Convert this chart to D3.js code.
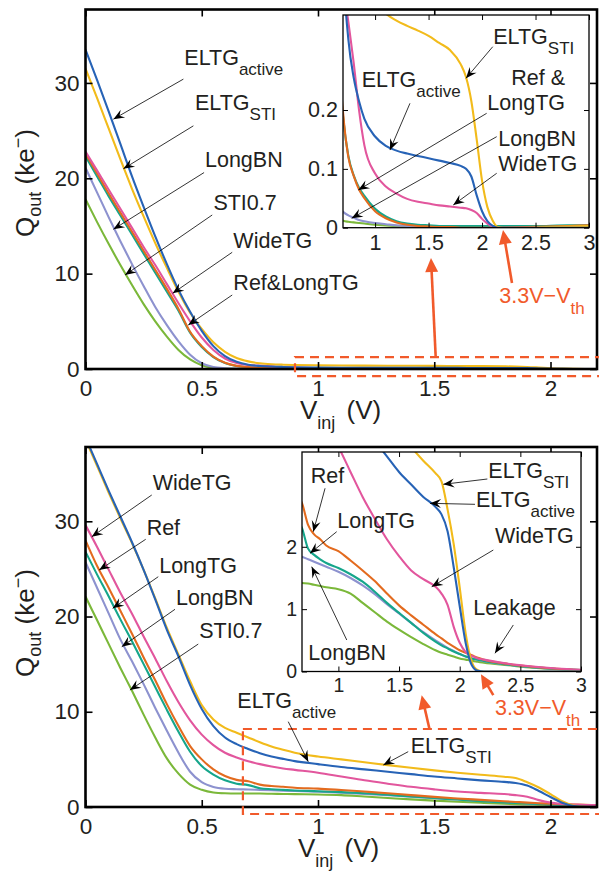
<!DOCTYPE html>
<html><head><meta charset="utf-8">
<script src="https://cdn.jsdelivr.net/npm/d3@7"></script>
<style>
body{margin:0;background:#fff}
svg text{font-family:"Liberation Sans",Arial,Helvetica,sans-serif;fill:#231f20}
</style></head>
<body><svg id="c" width="599" height="874"></svg>
<script>
// ---------------- DATA ----------------
const Vinj = [0,0.05,0.1,0.15,0.2,0.25,0.3,0.35,0.4,0.45,0.5,0.55,0.6,0.65,0.7,
  0.75,0.8,0.85,0.9, 1.0,1.1,1.2,1.3,1.4,1.5,1.6,1.7,1.8,
  1.85,1.9,1.95,2.0,2.05,2.1,2.15,2.2, 2.4,2.6,2.8,3.0];

// Top panel (ke-)
const topELTGactive = [33.5,30.3,27.0,23.6,20.2,17.0,13.9,11.0,8.3,6.0,4.0,2.4,1.35,0.75,0.45,
  0.32,0.255,0.215,0.185, 0.155,0.139,0.131,0.126,0.122,0.118,0.114,0.110,0.105,
  0.100,0.087,0.055,0.028,0.011,0.003,0.0,0.0, 0.0,0.0,0.0,0.0];
const topELTGSTI = [31.5,28.4,25.2,22.0,18.9,16.0,13.2,10.6,8.1,5.9,4.2,2.8,1.8,1.15,0.8,
  0.6,0.5,0.45,0.42, 0.385,0.364,0.352,0.343,0.335,0.326,0.314,0.302,0.278,
  0.256,0.215,0.150,0.080,0.035,0.012,0.001,0.0, 0.0,0.001,0.002,0.003];
const topWideTG = [22.8,20.8,18.8,16.8,14.8,12.8,10.9,8.9,6.9,5.0,3.3,2.0,1.1,0.62,0.42,
  0.35,0.28,0.2,0.14, 0.092,0.07,0.058,0.049,0.044,0.041,0.038,0.036,0.034,
  0.033,0.030,0.025,0.015,0.007,0.002,0.0,0.0, 0.0,0.0,0.001,0.001];
const topRefLongTG = [22.6,20.5,18.4,16.4,14.4,12.4,10.4,8.4,6.3,3.9,2.4,1.3,0.65,0.33,0.197,
  0.12,0.088,0.065,0.05, 0.028,0.016,0.009,0.005,0.003,0.002,0.001,0.001,0.0,
  0.0,0.0,0.0,0.0,0.0,0.0,0.0,0.0, 0.001,0.002,0.003,0.004];
const topLongTG = [22.3,20.2,18.1,16.1,14.1,12.1,10.1,8.1,6.1,3.8,2.3,1.25,0.62,0.32,0.19,
  0.122,0.089,0.068,0.054, 0.032,0.019,0.011,0.007,0.005,0.004,0.003,0.003,0.003,
  0.003,0.003,0.003,0.003,0.003,0.003,0.003,0.003, 0.003,0.003,0.004,0.004];
const topLongBN = [21.1,18.5,15.9,13.4,11.0,8.7,6.5,4.6,2.9,1.5,0.6,0.2,0.08,0.04,0.027,
  0.021,0.017,0.013,0.011, 0.008,0.006,0.004,0.003,0.002,0.002,0.001,0.001,0.001,
  0.001,0.001,0.001,0.001,0.001,0.001,0.001,0.001, 0.001,0.001,0.001,0.001];
const topSTI07 = [17.8,15.4,13.1,10.9,8.8,6.8,5.0,3.4,2.0,1.0,0.4,0.12,0.04,0.018,0.012,
  0.010,0.009,0.008,0.007, 0.005,0.004,0.003,0.003,0.002,0.002,0.002,0.002,0.002,
  0.002,0.002,0.002,0.002,0.002,0.002,0.002,0.002, 0.002,0.003,0.003,0.003];

// Bottom panel (ke-)
const botELTGactive = [38.8,36.0,33.2,30.5,27.8,24.9,21.8,18.6,15.8,12.8,10.3,8.5,7.3,6.6,6.1,
  5.65,5.3,5.05,4.82, 4.5,4.2,3.95,3.7,3.45,3.2,3.0,2.8,2.64,
  2.52,2.25,1.68,1.05,0.45,0.1,0.01,0.0, 0.0,0.0,0.0,0.0];
const botELTGSTI = [38.6,35.8,33.0,30.3,27.7,24.9,21.9,18.8,16.0,13.2,10.7,9.2,8.3,7.8,7.3,
  6.8,6.35,6.0,5.7, 5.3,5.0,4.7,4.4,4.12,3.85,3.6,3.38,3.18,
  3.05,2.6,2.05,1.35,0.6,0.15,0.02,0.0, 0.0,0.0,0.0,0.0];
const botWideTG = [29.6,27.3,24.9,22.5,20.3,17.9,15.6,13.2,11.0,9.1,7.6,6.5,5.7,5.2,4.8,
  4.5,4.25,4.05,3.9, 3.6,3.2,2.8,2.45,2.12,1.85,1.62,1.48,1.36,
  1.25,1.07,0.72,0.46,0.31,0.25,0.21,0.19, 0.125,0.08,0.048,0.028];
const botRef = [28.0,25.3,23.0,20.6,18.2,15.7,13.3,10.8,8.5,6.4,5.0,3.95,3.25,2.85,2.7,
  2.35,2.2,2.12,2.02, 1.93,1.78,1.62,1.45,1.25,1.06,0.9,0.75,0.6,
  0.53,0.46,0.4,0.34,0.3,0.26,0.22,0.19, 0.12,0.075,0.045,0.025];
const botLongTG = [26.8,24.4,22.1,19.7,17.4,15.0,12.6,10.2,7.9,5.8,4.3,3.4,2.8,2.45,2.3,
  1.97,1.87,1.8,1.74, 1.66,1.56,1.44,1.28,1.1,0.94,0.78,0.62,0.48,
  0.42,0.37,0.32,0.28,0.24,0.21,0.19,0.17, 0.11,0.07,0.04,0.022];
const botLongBN = [25.7,23.0,20.3,17.6,15.3,12.9,10.4,8.0,5.7,3.7,2.6,2.1,1.92,1.87,1.84,
  1.8,1.76,1.72,1.68, 1.6,1.5,1.38,1.24,1.08,0.93,0.78,0.63,0.5,
  0.44,0.38,0.33,0.28,0.24,0.21,0.185,0.165, 0.11,0.068,0.04,0.022];
const botSTI07 = [22.1,19.6,17.1,14.6,12.2,9.7,7.3,5.1,3.5,2.35,1.8,1.52,1.44,1.42,1.42,
  1.41,1.39,1.37,1.35, 1.32,1.25,1.1,0.95,0.8,0.67,0.55,0.44,0.34,
  0.3,0.27,0.24,0.21,0.19,0.17,0.155,0.14, 0.1,0.06,0.035,0.022];

// tick labels
const mainXTicks = [0,0.5,1,1.5,2];
const mainYTicks = [0,10,20,30];
const insetXTicks = [1,1.5,2,2.5,3];
const topInsetYTicks = [0,0.1,0.2];
const botInsetYTicks = [0,1,2];

// ---------------- STYLE ----------------
const COL = {blue:"#2763b6", yellow:"#f2bb1b", pink:"#e2569d", orange:"#e36b1f",
  teal:"#16a68b", lav:"#8d92cf", green:"#7bb83a"};
const RED = "#f15a2b", INK = "#231f20";

const topSeries = [
  {v:topSTI07,c:COL.green},{v:topLongBN,c:COL.lav},{v:topLongTG,c:COL.teal},
  {v:topRefLongTG,c:COL.orange},{v:topWideTG,c:COL.pink},{v:topELTGSTI,c:COL.yellow},
  {v:topELTGactive,c:COL.blue}];
const botSeries = [
  {v:botSTI07,c:COL.green},{v:botLongBN,c:COL.lav},{v:botLongTG,c:COL.teal},
  {v:botRef,c:COL.orange},{v:botWideTG,c:COL.pink},{v:botELTGSTI,c:COL.yellow},
  {v:botELTGactive,c:COL.blue}];

const svg = d3.select("#c");

const P = {
  topMain: {x:d3.scaleLinear([0,2.2],[85.5,597]), y:d3.scaleLinear([0,37.7],[369,9.5])},
  topInset:{x:d3.scaleLinear([0.7,3],[343,589]), y:d3.scaleLinear([0,0.3615],[227.7,15])},
  botMain: {x:d3.scaleLinear([0,2.2],[85.5,597]), y:d3.scaleLinear([0,37.8],[807,447])},
  botInset:{x:d3.scaleLinear([0.7,3],[302,581]), y:d3.scaleLinear([0,3.52],[671.5,452])}
};

let clipN = 0;
function curves(p, series, lw){
  const [x0,x1]=p.x.range(), [yb,yt]=p.y.range();
  const id = "clip"+(clipN++);
  svg.append("clipPath").attr("id",id).append("rect")
    .attr("x",x0).attr("y",yt).attr("width",x1-x0).attr("height",yb-yt);
  const g = svg.append("g").attr("clip-path",`url(#${id})`);
  const line = d3.line().x((d,i)=>p.x(Vinj[i])).y(d=>p.y(d)).curve(d3.curveMonotoneX);
  series.forEach(s=>{
    g.append("path").attr("d",line(s.v)).attr("fill","none")
      .attr("stroke",s.c).attr("stroke-width",lw).attr("stroke-linejoin","round");
  });
}

function axes(p, xt, yt, o){
  const [x0,x1]=p.x.range(), [yb,yt0]=p.y.range();
  const g = svg.append("g");
  const fix = sel => { sel.select(".domain").remove();
    sel.attr("font-family",null).attr("font-size",o.fs);
    sel.selectAll("line").attr("stroke","#000").attr("stroke-width",o.tw);
    sel.selectAll("text").attr("fill",INK); };
  g.append("g").attr("transform",`translate(0,${yb})`)
    .call(d3.axisBottom(p.x).tickValues(xt).tickSizeInner(-o.tl).tickSizeOuter(0).tickPadding(o.xp).tickFormat(String)).call(fix);
  g.append("g").attr("transform",`translate(0,${yt0})`)
    .call(d3.axisTop(p.x).tickValues(xt).tickSizeInner(-o.tl).tickSizeOuter(0).tickFormat("")).call(fix);
  g.append("g").attr("transform",`translate(${x0},0)`)
    .call(d3.axisLeft(p.y).tickValues(yt).tickSizeInner(-o.tl).tickSizeOuter(0).tickPadding(o.yp).tickFormat(String)).call(fix);
  g.append("g").attr("transform",`translate(${x1},0)`)
    .call(d3.axisRight(p.y).tickValues(yt).tickSizeInner(-o.tl).tickSizeOuter(0).tickFormat("")).call(fix);
  g.append("rect").attr("x",x0).attr("y",yt0).attr("width",x1-x0).attr("height",yb-yt0)
    .attr("fill","none").attr("stroke","#000").attr("stroke-width",o.bw);
}

function insetBg(p){
  const [x0,x1]=p.x.range(), [yb,yt]=p.y.range();
  svg.append("rect").attr("x",x0).attr("y",yt).attr("width",x1-x0).attr("height",yb-yt).attr("fill","#fff");
}

function dashedBox(p, v0, v1, q0, q1){
  svg.append("rect").attr("x",p.x(v0)).attr("y",p.y(q1))
    .attr("width",p.x(v1)-p.x(v0)).attr("height",p.y(q0)-p.y(q1))
    .attr("fill","none").attr("stroke",RED).attr("stroke-width",2.2).attr("stroke-dasharray","9,6");
}

function label(x,y,main,sub,opt={}){
  const t = svg.append("text").attr("x",x).attr("y",y).attr("font-size",opt.fs||21.5)
    .attr("text-anchor",opt.anchor||"start");
  if(opt.color) t.style("fill",opt.color);
  t.append("tspan").text(main);
  if(sub){ t.append("tspan").attr("dy",opt.sd||10).attr("font-size",opt.ss||17).text(sub); }
  return t;
}

function blackArrow(x1,y1,x2,y2){
  svg.append("line").attr("x1",x1).attr("y1",y1).attr("x2",x2).attr("y2",y2)
    .attr("stroke","#000").attr("stroke-width",0.8);
  const a=Math.atan2(y2-y1,x2-x1), L=11, Wd=4.5, N=7;
  const ux=Math.cos(a), uy=Math.sin(a), px=-uy, py=ux;
  const bx=x2-L*ux, by=y2-L*uy, nx=x2-N*ux, ny=y2-N*uy;
  svg.append("path").attr("d",`M${x2},${y2}L${bx+Wd*px},${by+Wd*py}L${nx},${ny}L${bx-Wd*px},${by-Wd*py}Z`).attr("fill","#000");
}

function redArrow(x1,y1,x2,y2){
  const a=Math.atan2(y2-y1,x2-x1), L=14, Wd=6.5;
  const ux=Math.cos(a), uy=Math.sin(a), px=-uy, py=ux;
  const bx=x2-L*ux, by=y2-L*uy;
  svg.append("line").attr("x1",x1).attr("y1",y1).attr("x2",bx+2*ux).attr("y2",by+2*uy)
    .attr("stroke",RED).attr("stroke-width",2.6);
  svg.append("path").attr("d",`M${x2},${y2}L${bx+Wd*px},${by+Wd*py}L${bx-Wd*px},${by-Wd*py}Z`).attr("fill",RED);
}

function notes(p, list){
  list.forEach(n=>{
    label(p.x(n.at[0]),p.y(n.at[1]),n.t,n.s,{anchor:n.anchor});
    if(n.from) blackArrow(p.x(n.from[0]),p.y(n.from[1]),p.x(n.to[0]),p.y(n.to[1]));
  });
}

// annotation layout (data coordinates of each panel)
const topMainNotes = [
  {t:"ELTG",s:"active",at:[0.425,31.9],from:[0.421,30.4],to:[0.120,26.2]},
  {t:"ELTG",s:"STI",at:[0.471,27.2],from:[0.464,25.5],to:[0.163,21.0]},
  {t:"LongBN",at:[0.514,21.2],from:[0.510,20.6],to:[0.120,14.65]},
  {t:"STI0.7",at:[0.550,16.7],from:[0.545,16.15],to:[0.170,9.86]},
  {t:"WideTG",at:[0.636,12.66],from:[0.631,12.24],to:[0.375,7.94]},
  {t:"Ref&LongTG",at:[0.636,8.28],from:[0.631,7.76],to:[0.442,4.61]}];
const topInsetNotes = [
  {t:"ELTG",s:"active",at:[0.875,0.2386],from:[1.326,0.2114],to:[1.139,0.132]},
  {t:"ELTG",s:"STI",at:[2.105,0.3117],from:[2.100,0.3076],to:[1.850,0.2539]},
  {t:"Ref &",at:[2.776,0.2425],anchor:"end"},
  {t:"LongTG",at:[2.776,0.200],anchor:"end",from:[2.043,0.1944],to:[0.843,0.0641]},
  {t:"LongBN",at:[2.152,0.1389],from:[2.137,0.1547],to:[0.781,0.016]},
  {t:"WideTG",at:[2.152,0.0969],from:[2.137,0.0925],to:[1.731,0.0386]}];
const botMainNotes = [
  {t:"WideTG",at:[0.289,33.28],from:[0.285,32.76],to:[0.027,28.38]},
  {t:"Ref",at:[0.263,28.56],from:[0.259,28.11],to:[0.059,24.88]},
  {t:"LongTG",at:[0.317,24.54],from:[0.313,24.18],to:[0.117,20.86]},
  {t:"LongBN",at:[0.389,21.21],from:[0.385,20.76],to:[0.156,16.83]},
  {t:"STI0.7",at:[0.489,17.71],from:[0.485,17.11],to:[0.191,12.28]},
  {t:"ELTG",s:"active",at:[0.653,10.36],from:[0.872,8.96],to:[0.958,4.76]},
  {t:"ELTG",s:"STI",at:[1.399,5.70],from:[1.388,5.81],to:[1.281,4.41]}];
const botInsetNotes = [
  {t:"Ref",at:[0.772,3.018],from:[0.890,2.938],to:[0.793,2.242]},
  {t:"LongTG",at:[0.991,2.296],from:[0.986,2.242],to:[0.766,1.895]},
  {t:"LongBN",at:[0.752,0.184],from:[1.069,0.505],to:[0.780,1.681]},
  {t:"ELTG",s:"STI",at:[2.236,3.098],from:[2.228,3.087],to:[1.865,3.002]},
  {t:"ELTG",s:"active",at:[2.134,2.643],from:[2.126,2.681],to:[1.755,2.697]},
  {t:"WideTG",at:[2.291,2.056],from:[2.277,1.948],to:[1.769,1.360]},
  {t:"Leakage",at:[2.112,0.906],from:[2.442,0.746],to:[2.291,0.292]}];

// ---------------- DRAW ----------------
const mainAx = {fs:22.5, tl:7, tw:1.6, bw:2.6, xp:11, yp:6};
const insetAx = {fs:21.5, tl:5, tw:1, bw:1.3, xp:7, yp:5};
const insetAx2 = {fs:19.5, tl:5, tw:1, bw:1.3, xp:7, yp:5};

function panel(main, inset, series, yTicksInset, insAx, mainNotes, insetNotes, box, red){
  curves(main, series, 2.1);
  axes(main, mainXTicks, mainYTicks, mainAx);
  dashedBox(main, box[0], box[1], box[2], box[3]);
  insetBg(inset);
  curves(inset, series, 2.1);
  axes(inset, insetXTicks, yTicksInset, insAx);
  notes(main, mainNotes);
  notes(inset, insetNotes);
  redArrow(main.x(red.a[0]),main.y(red.a[1]),main.x(red.a[2]),main.y(red.a[3]));
  redArrow(inset.x(red.b[0]),inset.y(red.b[1]),inset.x(red.b[2]),inset.y(red.b[3]));
  label(main.x(red.t[0]),main.y(red.t[1]),"3.3V\u2212V","th",{color:RED,sd:11});
}

panel(P.topMain, P.topInset, topSeries, topInsetYTicks, insetAx, topMainNotes, topInsetNotes,
  [0.901,2.4,-0.75,1.25],
  {a:[1.506,1.36,1.486,11.64], b:[2.280,-0.094,2.196,-0.004], t:[1.780,6.89]});
panel(P.botMain, P.botInset, botSeries, botInsetYTicks, insetAx2, botMainNotes, botInsetNotes,
  [0.677,2.4,-0.735,8.19],
  {a:[1.479,8.24,1.446,11.74], b:[2.277,-0.378,2.175,-0.045], t:[1.761,9.66]});

// axis titles
function yTitle(cy){
  const t = svg.append("text").attr("transform",`translate(34,${cy}) rotate(-90)`)
    .attr("text-anchor","middle").attr("font-size",26);
  t.append("tspan").text("Q");
  t.append("tspan").attr("font-size",18).attr("dy",7).text("out");
  t.append("tspan").attr("dy",-7).text(" (ke");
  t.append("tspan").attr("font-size",18).attr("dy",-10).text("\u2212");
  t.append("tspan").attr("dy",10).text(")");
}
function xTitle(x,y){
  const t = svg.append("text").attr("x",x).attr("y",y).attr("font-size",26);
  t.append("tspan").text("V");
  t.append("tspan").attr("font-size",18).attr("dy",10).text("inj");
  t.append("tspan").attr("dy",-10).attr("dx",4).text(" (V)");
}
yTitle(183); yTitle(623);
xTitle(300,419); xTitle(298,857);
</script></body></html>
